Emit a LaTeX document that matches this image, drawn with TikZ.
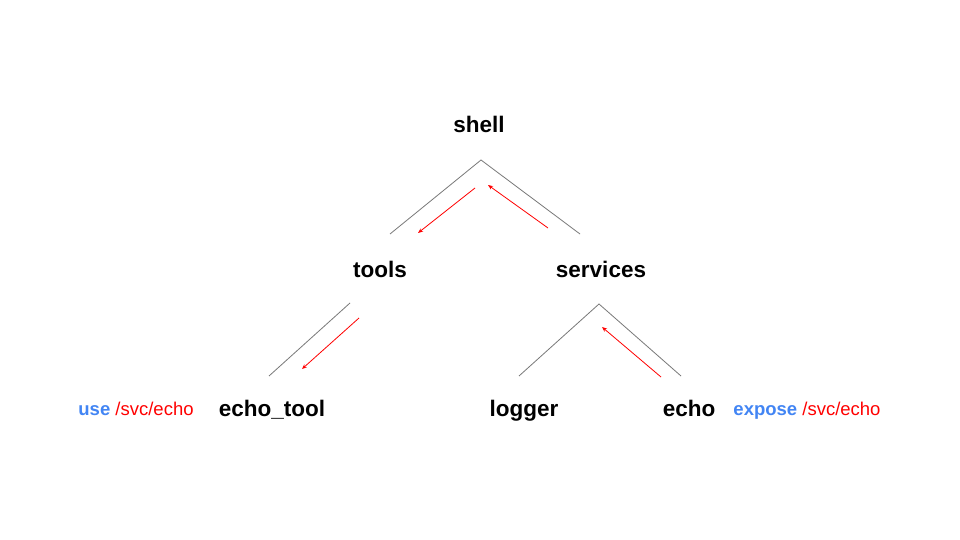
\documentclass[tikz,border=0pt]{standalone}
\usepackage{fontspec}
\setmainfont{Liberation Sans}
\usetikzlibrary{arrows.meta}
\definecolor{gblue}{HTML}{4285F4}
\definecolor{gred}{HTML}{FF0000}
\begin{document}
\begin{tikzpicture}[x=1pt,y=-1pt,
  lbl/.style={font=\fontsize{22.5}{26}\selectfont\bfseries, inner sep=0pt, anchor=base},
  side/.style={font=\fontsize{18.5}{21}\selectfont, inner sep=0pt, anchor=base},
  edge/.style={draw=gray!95!black, line width=0.8pt},
  flow/.style={draw=gred, line width=0.8pt, -{Stealth[length=5pt,width=4pt]}}]
\useasboundingbox[fill=white] (0,0) rectangle (960,540);
\node[lbl] (shell) at (479,133) {shell};
\node[lbl] (tools) at (380,277) {tools};
\node[lbl] (services) at (601,277) {services};
\node[lbl] (echotool) at (272,416) {echo\_tool};
\node[lbl] (logger) at (524,416) {logger};
\node[lbl] (echo) at (689,416) {echo};
\node[side] (use) at (136,415) {\textcolor{gblue}{\bfseries use} \textcolor{gred}{/svc/echo}};
\node[side] (expose) at (807,415) {\textcolor{gblue}{\bfseries expose} \textcolor{gred}{/svc/echo}};
% tree edges
\coordinate (a1) at (481,160);
\coordinate (a1l) at (390,234);
\coordinate (a1r) at (580,234);
\coordinate (t1) at (350,303);
\coordinate (t1e) at (269,376);
\coordinate (s1) at (599,304);
\coordinate (s1l) at (519,376);
\coordinate (s1r) at (681,376);
\draw[edge] (a1l) -- (a1) -- (a1r);
\draw[edge] (t1) -- (t1e);
\draw[edge] (s1l) -- (s1) -- (s1r);
% flows
\coordinate (f1s) at (475,188);
\coordinate (f1e) at (418,233);
\coordinate (f2s) at (548,228);
\coordinate (f2e) at (488,185);
\coordinate (f3s) at (359,318);
\coordinate (f3e) at (302,369);
\coordinate (f4s) at (661,377);
\coordinate (f4e) at (602,327);
\draw[flow] (f1s) -- (f1e);
\draw[flow] (f2s) -- (f2e);
\draw[flow] (f3s) -- (f3e);
\draw[flow] (f4s) -- (f4e);
\end{tikzpicture}
\end{document}
